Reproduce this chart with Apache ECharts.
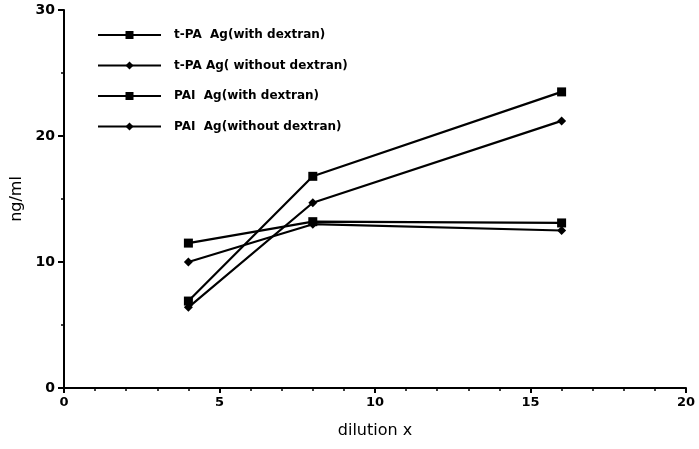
<!DOCTYPE html>
<html>
<head>
<meta charset="utf-8">
<script src="https://cdn.jsdelivr.net/npm/echarts@6/dist/echarts.min.js"></script>
<style>
  html, body { margin: 0; padding: 0; background: #fff; }
  #chart { width: 699px; height: 449px; }
</style>
</head>
<body>
<div id="chart"></div>
<script>
var dilution = [4, 8, 16];
var tpaWith = [6.9, 16.8, 23.5];
var tpaWithout = [6.4, 14.7, 21.2];
var paiWith = [11.5, 13.2, 13.1];
var paiWithout = [10.0, 13.0, 12.5];
var seriesNames = ['t-PA  Ag(with dextran)', 't-PA Ag( without dextran)', 'PAI  Ag(with dextran)', 'PAI  Ag(without dextran)'];

function pairs(vals) {
    return dilution.map(function (d, i) { return [d, vals[i]]; });
}

var diamond = 'path://M0,-1L1,0L0,1L-1,0Z';

function line(name, vals, symbol, size) {
    return {
        name: name,
        type: 'line',
        data: pairs(vals),
        symbol: symbol,
        symbolSize: size,
        itemStyle: { color: '#000' },
        lineStyle: { color: '#000', width: 2.2 },
        emphasis: { disabled: true }
    };
}

var myChart = echarts.init(document.getElementById('chart'));
var option = {
    animation: false,
    backgroundColor: '#fff',
    textStyle: { fontFamily: 'DejaVu Sans', color: '#000' },
    legend: {
        orient: 'vertical',
        left: 92,
        top: 24,
        itemWidth: 63,
        itemHeight: 10,
        itemGap: 18.5,
        textStyle: { fontSize: 12, fontWeight: 'bold', color: '#000', padding: [0, 0, 0, 8] },
        data: seriesNames
    },
    grid: { left: 64, right: 13, top: 10, bottom: 61, outerBoundsMode: 'none' },
    xAxis: {
        type: 'value',
        min: 0,
        max: 20,
        interval: 5,
        name: 'dilution x',
        nameLocation: 'middle',
        nameGap: 35,
        nameTextStyle: { fontSize: 16, color: '#000' },
        axisLine: { lineStyle: { color: '#000', width: 2 } },
        axisTick: { length: 5, lineStyle: { color: '#000', width: 2 } },
        minorTick: { show: true, splitNumber: 5, length: 3, lineStyle: { color: '#000', width: 1.5 } },
        axisLabel: { fontSize: 13, fontWeight: 'bold', color: '#000', margin: 8 },
        splitLine: { show: false }
    },
    yAxis: {
        type: 'value',
        min: 0,
        max: 30,
        interval: 10,
        name: 'ng/ml',
        nameLocation: 'middle',
        nameGap: 39,
        nameTextStyle: { fontSize: 16, color: '#000' },
        axisLine: { lineStyle: { color: '#000', width: 2 } },
        axisTick: { length: 6, lineStyle: { color: '#000', width: 2 } },
        minorTick: { show: true, splitNumber: 2, length: 3, lineStyle: { color: '#000', width: 1.5 } },
        axisLabel: { fontSize: 14, fontWeight: 'bold', color: '#000', margin: 9 },
        splitLine: { show: false }
    },
    series: [
        line(seriesNames[0], tpaWith, 'rect', 9),
        line(seriesNames[1], tpaWithout, diamond, 9),
        line(seriesNames[2], paiWith, 'rect', 9),
        line(seriesNames[3], paiWithout, diamond, 9)
    ]
};
myChart.setOption(option);
</script>
</body>
</html>
